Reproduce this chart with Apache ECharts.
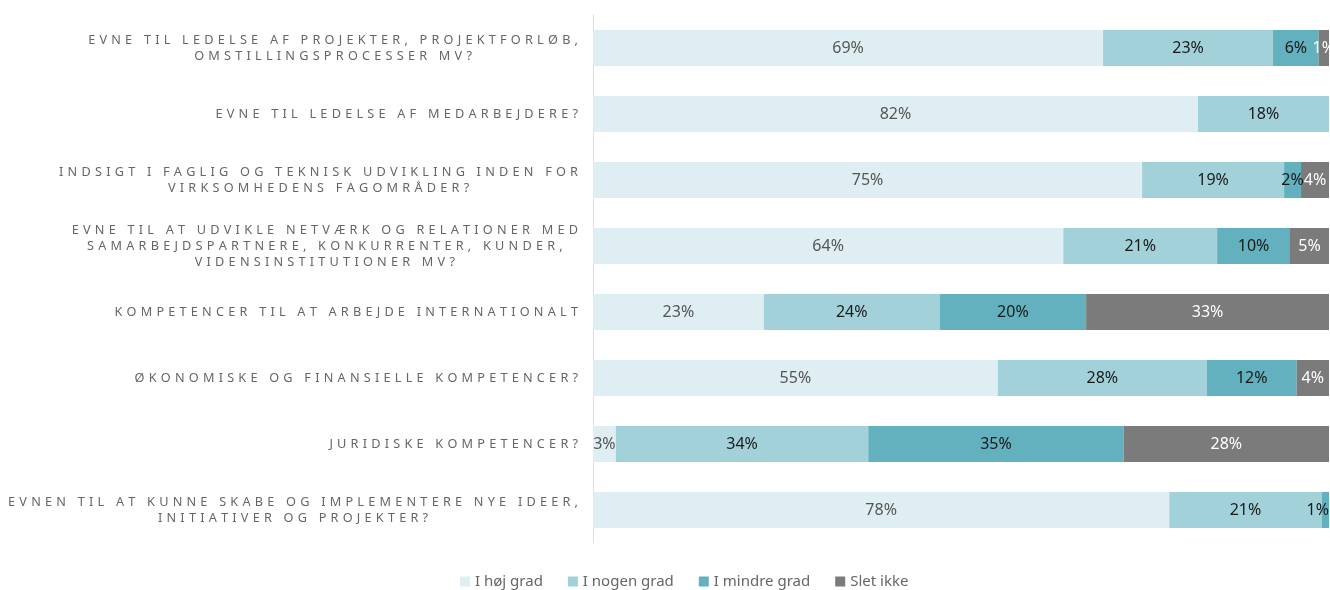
<!DOCTYPE html>
<html><head><meta charset="utf-8">
<script src="https://cdn.jsdelivr.net/npm/echarts@6/dist/echarts.min.js"></script>
<style>html,body{margin:0;padding:0;background:#fff}#c{width:1330px;height:590px}</style>
</head><body><div id="c"></div>
<script>
const categories = [
  'EVNE TIL LEDELSE AF PROJEKTER, PROJEKTFORLØB,\nOMSTILLINGSPROCESSER MV?',
  'EVNE TIL LEDELSE AF MEDARBEJDERE?',
  'INDSIGT I FAGLIG OG TEKNISK UDVIKLING INDEN FOR\nVIRKSOMHEDENS FAGOMRÅDER?',
  'EVNE TIL AT UDVIKLE NETVÆRK OG RELATIONER MED\nSAMARBEJDSPARTNERE, KONKURRENTER, KUNDER,\nVIDENSINSTITUTIONER MV?',
  'KOMPETENCER TIL AT ARBEJDE INTERNATIONALT',
  'ØKONOMISKE OG FINANSIELLE KOMPETENCER?',
  'JURIDISKE KOMPETENCER?',
  'EVNEN TIL AT KUNNE SKABE OG IMPLEMENTERE NYE IDEER,\nINITIATIVER OG PROJEKTER?'
];
const seriesNames = ['I høj grad', 'I nogen grad', 'I mindre grad', 'Slet ikke'];
const hoejGrad   = [69.3, 82.2, 74.6, 63.9, 23.2, 55.0, 3.1, 78.3];
const nogenGrad  = [23.1, 17.8, 19.3, 20.9, 23.9, 28.4, 34.3, 20.7];
const mindreGrad = [6.2, 0, 2.3, 9.9, 19.9, 12.2, 34.7, 1.0];
const sletIkke   = [1.4, 0, 3.8, 5.3, 33.0, 4.4, 27.9, 0];

const colors = ['#dfeef2', '#a3d1d9', '#63b0bf', '#7b7b7b'];
const labelColors = ['#555555', '#1a1a1a', '#1a1a1a', '#ffffff'];
const FONT = 'Noto Sans';

function spaced(s) { return s.split('').join('\u2004'); }

const chart = echarts.init(document.getElementById('c'));
const data = [hoejGrad, nogenGrad, mindreGrad, sletIkke];
chart.setOption({
  animation: false,
  grid: { left: 593, right: 1, top: 15, bottom: 47, outerBoundsMode: 'none', containLabel: false },
  legend: {
    top: 569, left: 455,
    itemWidth: 10, itemHeight: 10, itemGap: 25,
    icon: 'rect',
    textStyle: { color: '#666', fontSize: 15, fontFamily: FONT },
    data: seriesNames
  },
  xAxis: { type: 'value', min: 0, max: 100, show: false },
  yAxis: {
    type: 'category', data: categories, inverse: true,
    axisLine: { show: true, lineStyle: { color: '#dddddd' } },
    axisTick: { show: false },
    axisLabel: {
      margin: 15, align: 'right',
      formatter: v => v.split('\n').map(l => '{c|' + spaced(l) + '}').join('\n'),
      rich: { c: { align: 'center', color: '#666', fontSize: 12.7, fontFamily: FONT, lineHeight: 16 } }
    }
  },
  series: data.map((d, i) => ({
    name: seriesNames[i], type: 'bar', stack: 'total', barWidth: 36,
    itemStyle: { color: colors[i] },
    label: {
      show: true, position: 'inside', color: labelColors[i], fontSize: 16, fontFamily: FONT,
      formatter: p => p.value > 0 ? Math.round(p.value) + '%' : ''
    },
    labelLayout: i === 2 ? function (p) {
      const w = chart.getWidth();
      const r = p.labelRect;
      if (r.x + r.width > w) {
        return { x: w - 1, y: r.y + r.height / 2, align: 'right', verticalAlign: 'middle' };
      }
      return {};
    } : undefined,
    data: d
  }))
});
</script></body></html>
